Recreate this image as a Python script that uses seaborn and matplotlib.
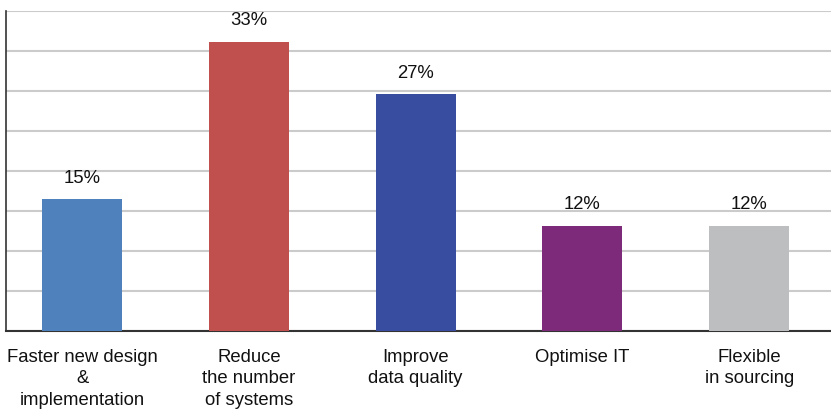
import matplotlib
matplotlib.use("Agg")
import matplotlib.pyplot as plt
import seaborn as sns
import numpy as np
import pandas as pd

categories = [
    "Faster new design\n&\nimplementation",
    "Reduce\nthe number\nof systems",
    "Improve\ndata quality",
    "Optimise IT",
    "Flexible\nin sourcing",
]
values = [15, 33, 27, 12, 12]
value_labels = ["15%", "33%", "27%", "12%", "12%"]
colors = ["#4F81BD", "#C0504D", "#384CA0", "#7E2A7A", "#BDBEC0"]

sns.set_theme(style="white")
plt.rcParams["font.family"] = ["Liberation Sans", "DejaVu Sans"]

df = pd.DataFrame({"category": categories, "value": values})

fig = plt.figure(figsize=(8.31, 4.09), dpi=100)
ax = fig.add_axes([6 / 831, 78 / 409, 825 / 831, 320 / 409])

sns.barplot(data=df, x="category", y="value", hue="category",
            palette=colors, legend=False, width=0.48, saturation=1,
            linewidth=0, ax=ax, zorder=3)

ymax = 36.5
ax.set_ylim(0, ymax)
ax.set_xlim(-0.456, 4.49)
ax.set_yticks(np.linspace(0, ymax, 9))
ax.yaxis.grid(True, color="#CBCBCB", linewidth=1.5, zorder=0)
ax.set_yticklabels([])
ax.tick_params(axis="y", length=0)
ax.tick_params(axis="x", length=0, pad=13, labelsize=13.3, labelcolor="#111111")
for lbl in ax.get_xticklabels():
    lbl.set_linespacing(1.34)
    lbl.set_verticalalignment("top")
ax.set_xlabel("")
ax.set_ylabel("")

for s in ["top", "right"]:
    ax.spines[s].set_visible(False)
ax.spines["left"].set_color("#333333")
ax.spines["left"].set_linewidth(1.2)
ax.spines["bottom"].set_color("#333333")
ax.spines["bottom"].set_linewidth(1.5)

for i, (v, t) in enumerate(zip(values, value_labels)):
    ax.annotate(t, (i, v), xytext=(0, 9), textcoords="offset points",
                ha="center", va="bottom", fontsize=13.3, color="#111111")

fig.savefig("out.png", dpi=100)
